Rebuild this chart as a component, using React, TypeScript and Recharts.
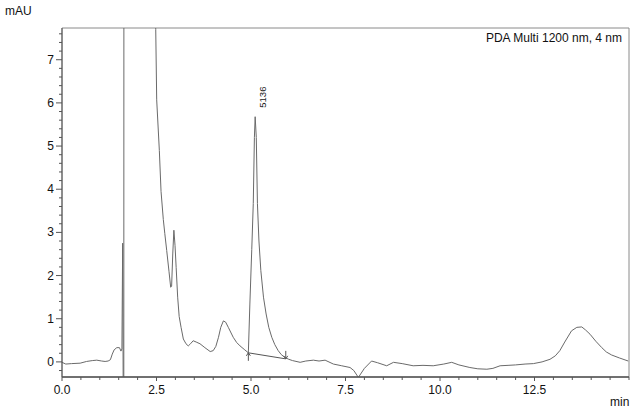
import {
  LineChart,
  Line,
  XAxis,
  YAxis,
  ReferenceArea,
  ReferenceLine,
  ReferenceDot,
} from "recharts";

/* ---------- chromatogram data (min, mAU) ---------- */
const times = [
  0.0, 0.1, 0.25, 0.48, 0.65, 0.8, 0.92, 1.05, 1.14, 1.22, 1.28, 1.33, 1.38,
  1.45, 1.52, 1.56, 1.585, 1.605, 1.62, 1.635, 1.645, 2.3, 2.45, 2.48, 2.505,
  2.575, 2.62, 2.68, 2.72, 2.77, 2.83, 2.875, 2.9, 2.93, 2.96, 2.99, 3.02,
  3.06, 3.1, 3.15, 3.21, 3.28, 3.34, 3.4, 3.47, 3.55, 3.65, 3.78, 3.92, 4.0,
  4.07, 4.14, 4.2, 4.27, 4.33, 4.4, 4.53, 4.62, 4.71, 4.82, 4.93, 4.97, 5.02,
  5.06, 5.09, 5.11, 5.14, 5.17, 5.21, 5.26, 5.33, 5.4, 5.47, 5.55, 5.63, 5.72,
  5.8, 5.9, 6.0, 6.1, 6.3, 6.45, 6.65, 6.8, 6.96, 7.18, 7.4, 7.62, 7.72, 7.84,
  8.0, 8.19, 8.35, 8.59, 8.77, 9.0, 9.29, 9.55, 9.82, 10.1, 10.31, 10.5,
  10.79, 11.0, 11.24, 11.4, 11.59, 11.8, 12.0, 12.25, 12.47, 12.7, 12.91,
  13.05, 13.17, 13.3, 13.48, 13.62, 13.75, 13.85, 13.97, 14.12, 14.28, 14.4,
  14.54, 14.75, 14.98,
];

const signal = [
  -0.01, -0.05, -0.04, -0.03, 0.01, 0.03, 0.04, 0.02, 0.01, 0.02, 0.05, 0.18,
  0.28, 0.33, 0.33, 0.25, 0.3, 2.75, -1.0, -1.0, 40, 15, 9, 7.7, 6.07, 4.9,
  3.95, 3.3, 2.97, 2.58, 2.1, 1.73, 1.75, 2.5, 3.05, 2.7, 2.19, 1.5, 1.05,
  0.8, 0.53, 0.42, 0.37, 0.42, 0.49, 0.46, 0.42, 0.33, 0.24, 0.26, 0.36, 0.57,
  0.8, 0.95, 0.92, 0.8, 0.57, 0.45, 0.37, 0.29, 0.21, 1.34, 2.6, 3.67, 5.2,
  5.68, 5.2, 3.67, 2.8, 2.12, 1.5, 1.11, 0.8, 0.57, 0.4, 0.26, 0.17, 0.1,
  0.06, 0.03, -0.01, 0.02, 0.04, 0.02, 0.04, -0.05, -0.09, -0.13, -0.2, -0.36,
  -0.15, 0.02, -0.02, -0.09, -0.01, -0.04, -0.09, -0.08, -0.09, -0.05, -0.01,
  -0.07, -0.13, -0.16, -0.17, -0.15, -0.09, -0.08, -0.07, -0.05, -0.04, 0.0,
  0.06, 0.14, 0.26, 0.46, 0.72, 0.8, 0.81, 0.74, 0.64, 0.48, 0.33, 0.23, 0.16,
  0.09, 0.02,
];

/* peak annotation + integration baseline */
const peakLabels = [{ t: 5.11, v: 5.68, name: "5136" }];
const integration = [
  { t: 4.93, v: 0.21, dir: "up" },
  { t: 5.92, v: 0.07, dir: "down" },
];

/* ---------- axes ---------- */
const X_DOMAIN: [number, number] = [0, 15];
const Y_DOMAIN: [number, number] = [-0.35, 7.735];
const xMajor = [0, 2.5, 5, 7.5, 10, 12.5];
const yMajor = [0, 1, 2, 3, 4, 5, 6, 7];

const xTicks: number[] = [];
for (let i = 0; i <= 30; i++) xTicks.push(i / 2);
const yTicks: number[] = [];
for (let i = -1; i <= 38; i++) yTicks.push(Math.round(i * 2) / 10);

const FONT = '"Liberation Sans", Arial, sans-serif';
const TRACE = "#6a6a6a";
const AXIS = "#555555";
const FRAME = "#8a8a8a";

const isMajor = (v: number, list: number[]) =>
  list.some((m) => Math.abs(m - v) < 1e-6);

function XTick({ x, y, payload }: any) {
  const major = isMajor(payload.value, xMajor);
  return (
    <g>
      <line x1={x} y1={y} x2={x} y2={y + (major ? 4 : 3)} stroke={AXIS} />
      {major && (
        <text
          x={x}
          y={y + 17}
          textAnchor="middle"
          fontSize={12}
          fontFamily={FONT}
          fill="#111"
        >
          {payload.value.toFixed(1)}
        </text>
      )}
    </g>
  );
}

function YTick({ x, y, payload }: any) {
  const major = isMajor(payload.value, yMajor);
  return (
    <g>
      <line x1={x - (major ? 6 : 3)} y1={y} x2={x} y2={y} stroke={AXIS} />
      {major && (
        <text
          x={x - 8}
          y={y + 4}
          textAnchor="end"
          fontSize={12}
          fontFamily={FONT}
          fill="#111"
        >
          {payload.value}
        </text>
      )}
    </g>
  );
}

export default function App() {
  const data = times.map((t, i) => ({ t, v: signal[i] }));

  return (
    <div
      style={{
        position: "absolute",
        left: 0,
        top: 0,
        width: 636,
        height: 410,
        background: "#fff",
        fontFamily: FONT,
      }}
    >
      <LineChart
        width={636}
        height={410}
        data={data}
        margin={{ top: 28, right: 7, left: 0, bottom: 0 }}
      >
        <XAxis
          dataKey="t"
          type="number"
          domain={X_DOMAIN}
          allowDataOverflow
          ticks={xTicks}
          interval={0}
          tickSize={0}
          tickMargin={0}
          tickLine={false}
          tick={<XTick />}
          axisLine={{ stroke: AXIS, strokeWidth: 1.5 }}
          height={33}
        />
        <YAxis
          type="number"
          domain={Y_DOMAIN}
          allowDataOverflow
          ticks={yTicks}
          interval={0}
          tickSize={0}
          tickMargin={0}
          tickLine={false}
          tick={<YTick />}
          axisLine={{ stroke: AXIS }}
          width={62}
        />
        <ReferenceArea
          x1={X_DOMAIN[0]}
          x2={X_DOMAIN[1]}
          y1={Y_DOMAIN[0]}
          y2={Y_DOMAIN[1]}
          fill="none"
          stroke={FRAME}
          strokeWidth={1}
        />
        <Line
          dataKey="v"
          type="linear"
          stroke={TRACE}
          strokeWidth={1}
          dot={false}
          isAnimationActive={false}
        />
        <ReferenceLine
          segment={[
            { x: integration[0].t, y: integration[0].v },
            { x: integration[1].t, y: integration[1].v },
          ]}
          stroke="#555"
          strokeWidth={1}
        />
        {integration.map((m, i) => (
          <ReferenceDot
            key={i}
            x={m.t}
            y={m.v}
            r={0}
            shape={(p: any) => {
              const s = m.dir === "up" ? 1 : -1;
              return (
                <g stroke="#555" fill="none" strokeWidth={1}>
                  <line x1={p.cx} y1={p.cy} x2={p.cx} y2={p.cy + s * 8} />
                  <polyline
                    points={`${p.cx - 2},${p.cy + s * 3} ${p.cx},${p.cy} ${p.cx + 2},${p.cy + s * 3}`}
                  />
                </g>
              );
            }}
          />
        ))}
        {peakLabels.map((pk) => (
          <ReferenceDot
            key={pk.name}
            x={pk.t}
            y={pk.v}
            r={0}
            shape={(p: any) => (
              <text
                transform={`translate(${p.cx + 11},${p.cy - 9}) rotate(-90)`}
                fontSize={9.5}
                fontFamily={FONT}
                fill="#222"
              >
                {pk.name}
              </text>
            )}
          />
        ))}
      </LineChart>

      <div
        style={{
          position: "absolute",
          left: 5,
          top: 4,
          fontSize: 12,
          color: "#111",
        }}
      >
        mAU
      </div>
      <div
        style={{
          position: "absolute",
          right: 14,
          top: 31,
          fontSize: 12,
          color: "#111",
        }}
      >
        PDA Multi 1200 nm, 4 nm
      </div>
      <div
        style={{
          position: "absolute",
          left: 610,
          top: 395,
          fontSize: 12,
          color: "#111",
        }}
      >
        min
      </div>
    </div>
  );
}
